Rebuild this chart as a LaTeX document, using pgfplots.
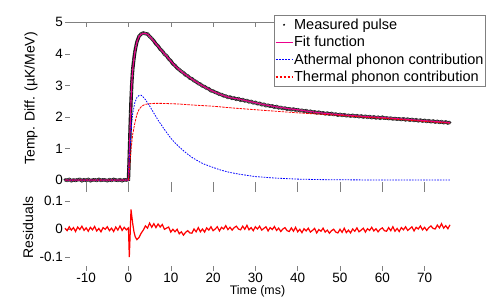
\documentclass[border=0pt]{standalone}
\usepackage{fontspec}
\setmainfont{Liberation Sans}
\usepackage{pgfplots}
\pgfplotsset{compat=1.18}
\begin{document}
\begin{tikzpicture}
\useasboundingbox (-65bp,-34bp) rectangle (433bp,271bp);
\pgfplotsset{
  myaxis/.style={
    scale only axis, width=385bp, xmin=-15, xmax=76, clip=false,
    clip marker paths=true,
    axis line style={draw=none},
    tick align=inside, major tick length=5bp,
    tick style={gray, line width=0.5bp},
    xtick={-10,0,10,20,30,40,50,60,70},
    xtick pos=both, ytick pos=left,
    tick label style={font=\fontsize{13.5bp}{15bp}\selectfont},
    yticklabel style={inner xsep=2bp},
    xticklabel style={inner ysep=2bp},
    label style={font=\fontsize{14bp}{16bp}\selectfont},
  }
}
% ---------- bottom: residuals ----------
\begin{axis}[myaxis, at={(0,0)}, anchor=south west, height=84bp,
  ymin=-0.15, ymax=0.15,
  ytick={-0.1,0,0.1}, yticklabels={-0.1,0,0.1},
  xticklabels={-10,0,10,20,30,40,50,60,70},
  xlabel={Time (ms)},
  xlabel style={font=\fontsize{12.4bp}{14bp}\selectfont, inner ysep=1bp},
  ylabel={Residuals},
  ylabel style={at={(axis description cs:-0.096,0.518)}, rotate=0, anchor=center},
]
\addplot[red, line width=1.2bp] coordinates {
(-15,0.003)(-14.5,-0.006)(-14,0.008)(-13.5,-0.004)(-13,0.005)(-12.5,-0.009)(-12,0.007)(-11.5,-0.002)
(-11,0.010)(-10.5,-0.005)(-10,0.004)(-9.5,-0.008)(-9,0.006)(-8.5,-0.003)(-8,0.009)(-7.5,-0.007)
(-7,0.002)(-6.5,-0.010)(-6,0.005)(-5.5,-0.001)(-5,0.008)(-4.5,-0.006)(-4,0.003)(-3.5,-0.009)
(-3,0.007)(-2.5,-0.004)(-2,0.011)(-1.5,-0.005)(-1,0.006)(-0.5,-0.003)(0,0.004)
(0.2,-0.100)(0.4,-0.020)(0.6,0.070)(0.8,0.045)(1.0,0.020)(1.3,-0.010)(1.6,-0.028)(2.0,-0.038)
(2.5,-0.030)(3.0,-0.015)(3.5,-0.004)
(4,0.011)(4.5,0.003)(5,0.021)(5.5,0.006)(6,0.019)(6.5,0.005)(7,0.018)(7.5,0.007)(8,0.016)(8.5,-0.001)
(9,0.003)(9.5,0.007)(10,-0.011)(10.5,-0.001)(11,-0.010)(11.5,-0.001)(12,-0.017)(12.5,-0.010)(13,-0.022)(13.5,-0.012)
(14,-0.006)(14.5,-0.014)(15,-0.015)(15.5,0.000)(16,-0.010)(16.5,0.005)(17,-0.010)(17.5,0.000)(18,-0.011)(18.5,0.004)
(19,-0.004)(19.5,0.008)(20,-0.006)(20.5,0.000)(21,0.008)(21.5,-0.007)(22,0.006)(22.5,0.000)(23,0.012)(23.5,-0.002)
(24,0.006)(24.5,-0.004)(25,0.005)(25.5,0.010)(26,0.000)(26.5,-0.003)(27,0.010)(27.5,-0.001)(28,0.013)(28.5,-0.003)
(29,0.005)(29.5,-0.006)(30,0.008)(30.5,0.000)(31,0.010)(31.5,-0.004)(32,0.002)(32.5,0.008)(33,-0.007)(33.5,0.005)
(34,-0.002)(34.5,0.009)(35,-0.005)(35.5,0.003)(36,-0.009)(36.5,0.000)(37,0.005)(37.5,-0.006)(38,-0.009)(38.5,0.004)
(39,-0.008)(39.5,0.006)(40,-0.010)(40.5,-0.001)(41,-0.013)(41.5,0.001)(42,-0.007)(42.5,0.003)(43,-0.011)(43.5,-0.005)
(44,0.002)(44.5,-0.014)(45,-0.002)(45.5,-0.008)(46,0.003)(46.5,-0.011)(47,-0.004)(47.5,-0.015)(48,-0.006)(48.5,-0.001)
(49,-0.011)(49.5,-0.014)(50,-0.001)(50.5,-0.012)(51,0.003)(51.5,-0.013)(52,-0.004)(52.5,-0.014)(53,0.000)(53.5,-0.008)
(54,0.004)(54.5,-0.010)(55,-0.004)(55.5,0.003)(56,-0.011)(56.5,0.001)(57,-0.005)(57.5,0.006)(58,-0.007)(58.5,0.001)
(59,-0.010)(59.5,-0.001)(60,0.004)(60.5,-0.006)(61,-0.008)(61.5,0.005)(62,-0.006)(62.5,0.008)(63,-0.008)(63.5,0.002)
(64,-0.009)(64.5,0.005)(65,-0.003)(65.5,0.008)(66,-0.005)(66.5,0.001)(67,0.008)(67.5,-0.007)(68,0.006)(68.5,0.000)
(69,0.011)(69.5,-0.003)(70,0.006)(70.5,-0.005)(71,0.005)(71.5,0.011)(72,0.002)(72.5,0.000)(73,0.014)(73.5,0.004)
(74,0.019)(74.5,0.003)(75,0.012)(75.5,0.001)(76,0.015)
};
\end{axis}
% ---------- top: pulse ----------
\begin{axis}[myaxis, at={(0,84bp)}, anchor=south west, height=164.7bp,
  ymin=-0.22, ymax=5,
  ytick={0,1,2,3,4,5}, yticklabels={0,1,2,3,4,5},
  xticklabels={},
  ylabel={Temp. Diff. (µK/MeV)},
  ylabel style={at={(axis description cs:-0.088,0.538)}, rotate=0, anchor=center},
  legend cell align=left,
  legend style={at={(0.542,1.045)}, anchor=north west, draw=gray, line width=0.5bp,
    fill=white, inner xsep=1bp, inner ysep=1bp,
    font=\fontsize{14.5bp}{16bp}\selectfont,
    nodes={inner ysep=2.7bp, inner xsep=1bp}},
  after end axis/.code={\draw[gray, line width=0.6bp] (rel axis cs:0,1) -- (rel axis cs:1,1);},
]
\addplot[draw=black!90, line width=3.4bp, mark=*, mark size=1.3bp,
  mark options={fill=black, draw=black!50, line width=0.3bp},
  legend image code/.code={\path[fill=black, draw=none] (0.3cm,0) circle (1.1bp);}]
coordinates {
(-15,0.01)(-14.5,-0.01)(-14,0.02)(-13.5,-0.02)(-13,0)(-12.5,-0.01)(-12,0.01)(-11.5,0.02)
(-11,-0.02)(-10.5,0.01)(-10,-0.01)(-9.5,0.02)(-9,-0.02)(-8.5,0)(-8,0.01)(-7.5,-0.01)
(-7,0.02)(-6.5,-0.01)(-6,0.01)(-5.5,0)(-5,-0.02)(-4.5,0.01)(-4,-0.01)(-3.5,0.02)
(-3,0)(-2.5,-0.01)(-2,0.01)(-1.5,-0.02)(-1,0.01)(-0.5,0)(0,0.02)
(0.1,0.4)(0.2,0.8)(0.3,1.25)(0.4,1.7)(0.5,2.1)(0.6,2.5)(0.7,2.8)(0.8,3.1)(0.9,3.3)(1.0,3.5)
(1.25,3.8)(1.5,4.05)(1.75,4.23)(2,4.38)(2.5,4.56)(3,4.63)(3.5,4.66)(4,4.64)(4.5,4.63)(5,4.55)
(5.5,4.49)(6,4.41)(6.5,4.31)(7,4.25)(7.5,4.15)(8,4.09)(8.5,3.99)(9,3.94)(9.5,3.84)(10,3.78)
(10.5,3.68)(11,3.63)(11.5,3.55)(12,3.50)(12.5,3.44)(13,3.40)(13.5,3.33)(14,3.30)(14.5,3.23)(15,3.21)
(15.5,3.15)(16,3.12)(16.5,3.06)(17,3.04)(17.5,2.98)(18,2.96)(18.5,2.91)(19,2.89)(19.5,2.83)(20,2.82)
(20.5,2.78)(21,2.76)(21.5,2.72)(22,2.71)(22.5,2.67)(23,2.66)(23.5,2.62)(24,2.63)(24.5,2.59)(25,2.60)
(25.5,2.56)(26,2.58)(26.5,2.53)(27,2.55)(27.5,2.51)(28,2.52)(28.5,2.48)(29,2.49)(29.5,2.45)(30,2.46)
(30.5,2.42)(31,2.43)(31.5,2.39)(32,2.40)(32.5,2.36)(33,2.37)(33.5,2.34)(34,2.35)(34.5,2.31)(35,2.33)
(35.5,2.29)(36,2.30)(36.5,2.27)(37,2.28)(37.5,2.25)(38,2.26)(38.5,2.23)(39,2.25)(39.5,2.22)(40,2.23)
(40.5,2.20)(41,2.21)(41.5,2.18)(42,2.20)(42.5,2.16)(43,2.18)(43.5,2.15)(44,2.16)(44.5,2.13)(45,2.15)
(45.5,2.12)(46,2.13)(46.5,2.10)(47,2.12)(47.5,2.09)(48,2.11)(48.5,2.08)(49,2.09)(49.5,2.06)(50,2.08)
(50.5,2.05)(51,2.07)(51.5,2.04)(52,2.05)(52.5,2.03)(53,2.05)(53.5,2.02)(54,2.04)(54.5,2.01)(55,2.03)
(55.5,2.00)(56,2.02)(56.5,1.99)(57,2.01)(57.5,1.98)(58,2.00)(58.5,1.97)(59,1.99)(59.5,1.96)(60,1.99)
(60.5,1.96)(61,1.97)(61.5,1.95)(62,1.96)(62.5,1.94)(63,1.95)(63.5,1.93)(64,1.94)(64.5,1.92)(65,1.94)
(65.5,1.91)(66,1.93)(66.5,1.90)(67,1.92)(67.5,1.89)(68,1.91)(68.5,1.88)(69,1.90)(69.5,1.87)(70,1.89)
(70.5,1.86)(71,1.88)(71.5,1.85)(72,1.87)(72.5,1.84)(73,1.86)(73.5,1.83)(74,1.85)(74.5,1.82)(75,1.84)
(75.5,1.81)(76,1.83)
};
\addlegendentry{Measured pulse}
\addplot[magenta, line width=1.1bp,
  legend image code/.code={\draw[magenta, line width=1.1bp] (0cm,0cm) -- (0.6cm,0cm);}]
coordinates {
(-15,0)(0,0)(0.2,0.8)(0.4,1.7)(0.6,2.5)(0.8,3.1)(1,3.5)(1.5,4.05)(2,4.38)(2.5,4.55)(3,4.62)(3.5,4.65)
(4,4.65)(4.5,4.62)(5,4.56)(6,4.40)(7,4.24)(8,4.08)(9,3.93)(10,3.77)(11,3.62)(12,3.50)(13,3.39)
(14,3.29)(15,3.20)(16,3.11)(17,3.03)(18,2.95)(19,2.88)(20,2.81)(22,2.70)(24,2.61)(26,2.57)(28,2.51)
(30,2.45)(32,2.39)(35,2.32)(38,2.26)(40,2.23)(43,2.17)(46,2.12)(50,2.07)(55,2.02)(60,1.98)
(65,1.93)(70,1.88)(76,1.82)
};
\addlegendentry{Fit function}
\addplot[blue, line width=0.8bp, dash pattern=on 1.6bp off 1.2bp,
  legend image code/.code={\draw[blue, line width=1.2bp, dash pattern=on 2bp off 1.2bp] (0cm,0cm) -- (0.6cm,0cm);}]
coordinates {
(-15,0)(0,0)(0.2,0.5)(0.4,1.1)(0.6,1.5)(0.8,1.85)(1.0,2.1)(1.5,2.45)(2,2.62)(2.5,2.68)(3,2.69)
(3.5,2.63)(4,2.55)(5,2.35)(6,2.12)(7,1.90)(8,1.70)(9,1.51)(10,1.33)(11,1.18)(12,1.05)(13,0.93)
(14,0.82)(15,0.72)(16,0.64)(17,0.56)(18,0.50)(19,0.45)(20,0.40)(22,0.31)(24,0.24)(26,0.19)
(28,0.15)(30,0.11)(32,0.09)(35,0.06)(40,0.03)(45,0.015)(50,0.008)(60,0.002)(76,0)
};
\addlegendentry{Athermal phonon contribution}
\addplot[red, line width=0.8bp, dash pattern=on 2.5bp off 1bp,
  legend image code/.code={\draw[red, line width=1.2bp, dash pattern=on 2.8bp off 1.2bp] (0cm,0cm) -- (0.6cm,0cm);}]
coordinates {
(-15,0)(0,0)(0.2,0.3)(0.4,0.65)(0.6,0.95)(0.8,1.2)(1.0,1.45)(1.5,1.8)(2,2.08)(2.5,2.24)(3,2.32)
(3.5,2.37)(4,2.40)(5,2.42)(6,2.43)(8,2.43)(10,2.42)(12,2.41)(15,2.38)(20,2.34)(25,2.28)(30,2.23)
(35,2.18)(40,2.13)(45,2.09)(50,2.05)(55,2.00)(60,1.96)(65,1.91)(70,1.86)(76,1.80)
};
\addlegendentry{Thermal phonon contribution}
\end{axis}
\end{tikzpicture}
\end{document}
